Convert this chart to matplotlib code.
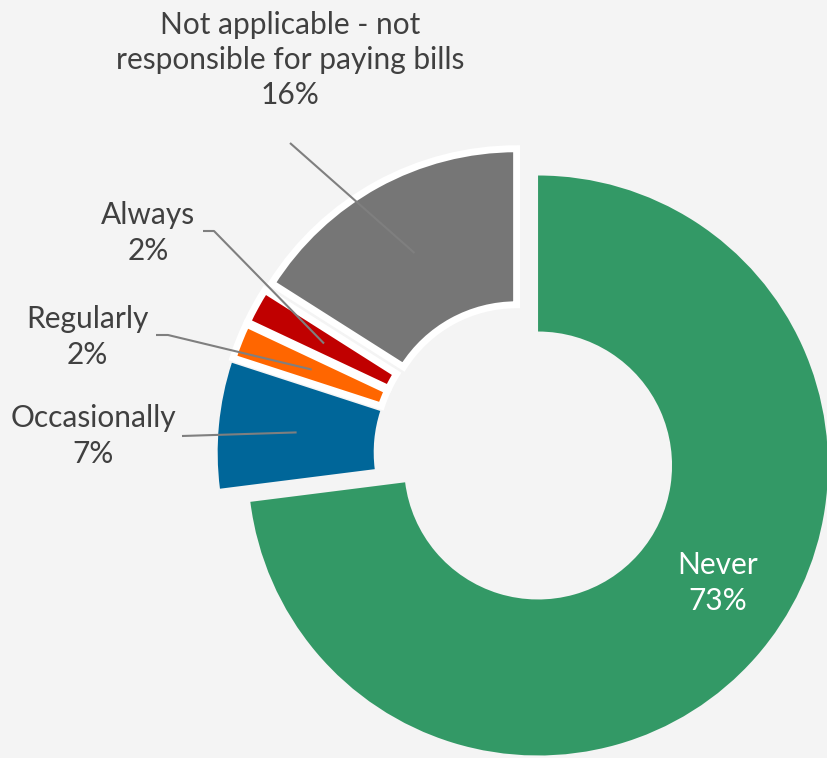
import numpy as np
import matplotlib
matplotlib.use("Agg")
import matplotlib.pyplot as plt

# Survey shares, drawn clockwise from 12 o'clock
categories = ["Never", "Occasionally", "Regularly", "Always",
              "Not applicable - not\nresponsible for paying bills"]
shares = [73, 7, 2, 2, 16]
colors = ["#339966", "#006699", "#FF6600", "#C00000", "#767676"]

W, H = 827, 758
BG = "#F4F4F4"
# Canvas geometry (pixels): ring centre and outer radius
CX, CY, R = 525, 454, 290


def px(x, y):
    """Pixel position (origin top-left) -> data units of the unit-radius pie."""
    return (x - CX) / R, (CY - y) / R


fig = plt.figure(figsize=(W / 100, H / 100), dpi=100, facecolor=BG)
ax = fig.add_axes([0, 0, 1, 1])
ax.set_facecolor(BG)

wedges, _ = ax.pie(
    shares,
    colors=colors,
    startangle=90,
    counterclock=False,
    radius=1.0,
    explode=[0.06] * len(shares),
    wedgeprops=dict(width=0.538, linewidth=0),
)
# thin white outline on the small slices and the grey slice
for w in wedges[2:]:
    w.set_edgecolor("white")
    w.set_linewidth(5)

x0, y0 = px(0, H)
x1, y1 = px(W, 0)
ax.set_xlim(x0, x1)
ax.set_ylim(y0, y1)
ax.set_aspect("equal")
ax.axis("off")

FONT = "Lato"
FS = 21.5
LS = 1.32
TXT = "#404040"
LEAD = "#7F7F7F"


def ring_mid(w):
    """Point at the middle of the ring, on the wedge's bisector."""
    th = np.deg2rad((w.theta1 + w.theta2) / 2)
    rm = w.r - w.width / 2
    cx, cy = w.center
    return cx + rm * np.cos(th), cy + rm * np.sin(th)


labels = [f"{c}\n{v}%" for c, v in zip(categories, shares)]

# Never: inside the slice
ax.text(*px(718, 583), labels[0], ha="center", va="center", color="white",
        fontsize=FS, family=FONT, linespacing=LS)

# Outside labels with leader lines: (text centre, line start, elbow)
outside = {
    1: ((93, 436), [(182, 436)]),
    2: ((87, 337), [(156, 335), (168, 335)]),
    3: ((148, 233), [(203, 231), (214, 231)]),
    4: ((290, 60), [(290, 143)]),
}
for i, (tpos, pts) in outside.items():
    ax.text(*px(*tpos), labels[i], ha="center", va="center", color=TXT,
            fontsize=FS, family=FONT, linespacing=LS)
    path = [px(*p) for p in pts] + [ring_mid(wedges[i])]
    xs, ys = zip(*path)
    ax.plot(xs, ys, color=LEAD, lw=1.5, solid_capstyle="butt", zorder=5)

fig.savefig("out.png", dpi=100, facecolor=BG)
